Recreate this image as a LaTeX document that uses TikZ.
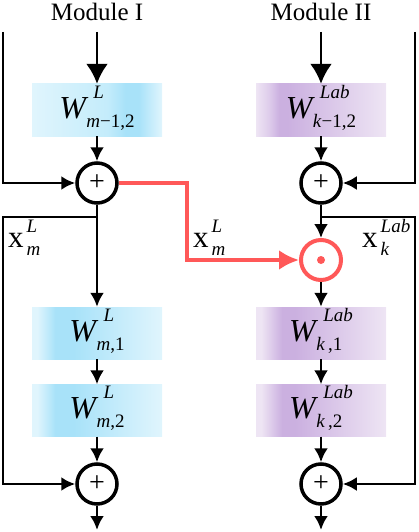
\documentclass[tikz,border=0pt]{standalone}
\usepackage{fontspec}
\setmainfont{Liberation Serif}
\usetikzlibrary{positioning, arrows.meta, calc}

\definecolor{blueL}{RGB}{224,245,253}
\definecolor{blueM}{RGB}{196,236,251}
\definecolor{blueD}{RGB}{168,226,249}
\definecolor{purpL}{RGB}{238,229,244}
\definecolor{purpM}{RGB}{222,204,235}
\definecolor{purpD}{RGB}{203,176,224}
\definecolor{hot}{RGB}{255,88,88}

\pgfdeclarehorizontalshading{blueTop}{100bp}{color(0bp)=(blueL); color(25bp)=(blueL);
  color(54bp)=(blueM); color(61bp)=(blueD); color(66bp)=(blueD); color(75bp)=(blueL); color(100bp)=(blueL)}
\pgfdeclarehorizontalshading{blueLow}{100bp}{color(0bp)=(blueL); color(27bp)=(blueL);
  color(34bp)=(blueD); color(41bp)=(blueD); color(75bp)=(blueL); color(100bp)=(blueL)}
\pgfdeclarehorizontalshading{purpTop}{100bp}{color(0bp)=(purpL); color(25bp)=(purpL);
  color(30bp)=(purpM); color(34bp)=(purpD); color(37bp)=(purpD); color(75bp)=(purpL); color(100bp)=(purpL)}
\pgfdeclarehorizontalshading{purpLow}{100bp}{color(0bp)=(purpL); color(27bp)=(purpL);
  color(35bp)=(purpD); color(40bp)=(purpD); color(75bp)=(purpL); color(100bp)=(purpL)}

% sup/sub pair: kern sup, kern sub, raise, drop, size, sup, sub
\newcommand{\supsub}[7]{%
  {\fontsize{#5}{#5}\selectfont
   \setbox0\hbox{\kern#1\raisebox{#3}{#6}}%
   \setbox2\hbox{\kern#2\raisebox{-#4}{#7}}%
   \ifdim\wd0>\wd2 \rlap{\box2}\box0\else\rlap{\box0}\box2\fi}}
\newcommand{\wsym}[2]{\textit{W}\supsub{5pt}{-2pt}{20pt}{9pt}{19}{\textit{#1}}{#2}}
\newcommand{\xsym}[2]{x\supsub{3pt}{3pt}{15pt}{8pt}{19}{\textit{#1}}{\textit{#2}}}

\begin{document}
\begin{tikzpicture}[x=1pt, y=1pt, on grid, >={Latex[length=14pt,width=14pt]},
  wbox/.style={shade, minimum width=130pt, minimum height=52pt, inner sep=0pt,
    text height=32pt, text depth=16pt, font=\fontsize{32}{34}\selectfont},
  sum/.style={draw, circle, line width=3.5pt, minimum size=40pt, inner sep=0pt,
    font=\fontsize{28}{28}\selectfont},
  prod/.style={draw=hot, circle, line width=4pt, minimum size=40pt, inner sep=0pt,
    path picture={\fill[hot] (path picture bounding box.center) circle (4pt);}},
  lbl/.style={font=\fontsize{31}{32}\selectfont, inner sep=0pt},
  title/.style={font=\fontsize{25}{30}\selectfont},
  line/.style={line width=2.8pt},
  redline/.style={line width=4pt, draw=hot},
  bigtip/.style={-{Latex[length=20pt,width=22pt]}}]
\useasboundingbox (0,0) rectangle (418,-532);

\node[title] (modA) at (97,-12) {Module I};
\node[title, right=224pt of modA] (modB) {Module II};

% Module I
\coordinate[below=20pt of modA] (inA);
\coordinate[left=94pt of inA] (railA);
\node[wbox, shading=blueTop, below=98pt of modA] (wA0) {\wsym{L}{\textit{m}−1,2}};
\node[sum, below=73pt of wA0] (sumA0) {+};
\coordinate[below=34pt of sumA0] (brA);
\coordinate[left=94pt of brA] (skipA);
\node[wbox, shading=blueLow, below=150pt of sumA0] (wA1) {\wsym{L}{\textit{m},1}};
\node[wbox, shading=blueLow, below=77.5pt of wA1] (wA2) {\wsym{L}{\textit{m},2}};
\node[sum, below=73.5pt of wA2] (sumA1) {+};
\coordinate[below=46pt of sumA1] (outA);
\coordinate[right=90pt of sumA0] (bendA);
\coordinate[below=77pt of bendA] (kneeA);

% Module II
\coordinate[below=20pt of modB] (inB);
\coordinate[right=94pt of inB] (railB);
\node[wbox, shading=purpTop, right=224pt of wA0] (wB0) {\wsym{Lab}{\textit{k}−1,2}};
\node[sum, right=224pt of sumA0] (sumB0) {+};
\coordinate[below=34pt of sumB0] (brB);
\coordinate[right=94pt of brB] (skipB);
\node[prod, below=77pt of sumB0] (dotB) {};
\node[wbox, shading=purpLow, right=224pt of wA1] (wB1) {\wsym{Lab}{\textit{k}\,,1}};
\node[wbox, shading=purpLow, right=224pt of wA2] (wB2) {\wsym{Lab}{\textit{k}\,,2}};
\node[sum, right=224pt of sumA1] (sumB1) {+};
\coordinate[below=46pt of sumB1] (outB);

% labels
\node[lbl, below right=30pt and 5pt of skipA, anchor=base west] (xmLeft) {\xsym{L}{m}};
\node[lbl, above right=13pt and 6pt of kneeA, anchor=base west] (xmMid) {\xsym{L}{m}};
\node[lbl, below left=30pt and 53pt of skipB, anchor=base west] (xkRight) {\xsym{Lab}{k}};

% connections
\draw[line, bigtip] (inA) -- (wA0);
\draw[line, ->] (wA0) -- (sumA0);
\draw[line, ->] (railA) |- (sumA0);
\draw[line, ->] (sumA0) -- (wA1);
\draw[line, ->] (brA) -- (skipA) |- (sumA1);
\draw[line, ->] (wA1) -- (wA2);
\draw[line, ->] (wA2) -- (sumA1);
\draw[line, ->] (sumA1) -- (outA);

\draw[line, bigtip] (inB) -- (wB0);
\draw[line, ->] (wB0) -- (sumB0);
\draw[line, ->] (railB) |- (sumB0);
\draw[line, ->] (sumB0) -- (dotB);
\draw[line, ->] (brB) -- (skipB) |- (sumB1);
\draw[line, ->] (dotB) -- (wB1);
\draw[line, ->] (wB1) -- (wB2);
\draw[line, ->] (wB2) -- (sumB1);
\draw[line, ->] (sumB1) -- (outB);

\draw[redline, -{Latex[length=20pt,width=20pt]}] (sumA0) -- (bendA) |- (dotB);
\end{tikzpicture}
\end{document}
